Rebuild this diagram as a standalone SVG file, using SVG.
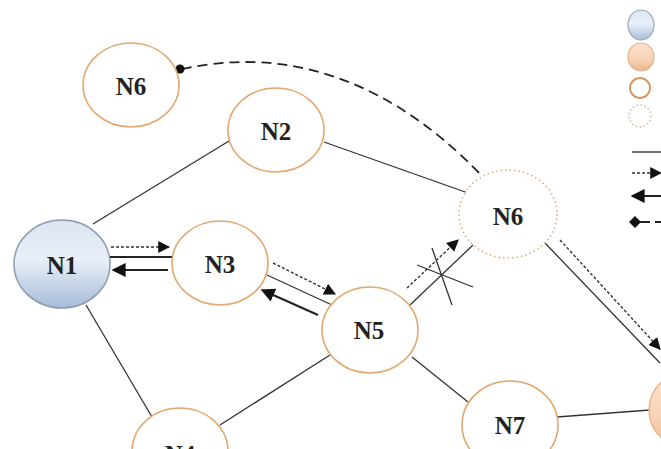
<svg xmlns="http://www.w3.org/2000/svg" width="661" height="449" viewBox="0 0 661 449">
<style>
.node{fill:#fff;stroke:#e2a86e;stroke-width:1.6}
.dotted{fill:#fff;stroke:#dcae80;stroke-width:1.6;stroke-dasharray:1.5 3}
.lbl{font-family:"Liberation Serif",serif;font-weight:bold;font-size:25px;fill:#222;text-anchor:middle;dominant-baseline:central}
.ln{stroke:#333;stroke-width:1.3;fill:none}
.dot{stroke:#333;stroke-width:1.4;stroke-dasharray:3 2;fill:none}
.dash{stroke:#222;stroke-width:1.8;stroke-dasharray:10 6;fill:none}
.arw{stroke:#222;stroke-width:2;fill:none}
</style>
<defs>
<linearGradient id="blue" x1="0" y1="0" x2="0" y2="1">
<stop offset="0" stop-color="#dbe5f2"/>
<stop offset="0.45" stop-color="#e9eff8"/>
<stop offset="1" stop-color="#a6bcd9"/>
</linearGradient>
<linearGradient id="peach" x1="0" y1="0" x2="0" y2="1">
<stop offset="0" stop-color="#fce3d0"/>
<stop offset="0.6" stop-color="#f9d2b5"/>
<stop offset="1" stop-color="#e9b48e"/>
</linearGradient>
<marker id="ah" viewBox="0 0 10 10" refX="9" refY="5" markerWidth="12" markerHeight="12" markerUnits="userSpaceOnUse" orient="auto">
<path d="M0,0 L10,5 L0,10 z" fill="#111"/>
</marker>
<marker id="ahs" viewBox="0 0 10 10" refX="9" refY="5" markerWidth="14" markerHeight="14" markerUnits="userSpaceOnUse" orient="auto">
<path d="M0,0 L10,5 L0,10 z" fill="#111"/>
</marker>
</defs>

<g id="connectors">
<line class="ln" x1="93" y1="224" x2="229" y2="141"/>
<line class="ln" x1="324" y1="142" x2="468" y2="193"/>
<path class="dash" d="M182,69 C260,52 370,58 484,178"/>
<circle cx="180" cy="69" r="4.5" fill="#111"/>
<line class="dot" x1="111" y1="247" x2="169" y2="247" marker-end="url(#ah)"/>
<line class="arw" x1="107" y1="257" x2="173" y2="257"/>
<line class="arw" x1="168" y1="270" x2="113" y2="270" marker-end="url(#ahs)"/>
<line class="dot" x1="273" y1="263" x2="335" y2="294" marker-end="url(#ah)"/>
<line class="ln" x1="267" y1="275" x2="332" y2="305"/>
<line class="arw" x1="318" y1="315" x2="262" y2="290" marker-end="url(#ahs)"/>
<line class="ln" x1="410" y1="305" x2="473" y2="245"/>
<line class="dot" x1="407" y1="288" x2="458" y2="240" marker-end="url(#ah)"/>
<line class="ln" x1="432" y1="248" x2="452" y2="305"/>
<line class="ln" x1="417" y1="265" x2="473" y2="287"/>
<line class="dot" x1="560" y1="240" x2="660" y2="349" marker-end="url(#ah)"/>
<line class="ln" x1="545" y1="243" x2="660" y2="363"/>
<line class="ln" x1="412" y1="357" x2="468" y2="402"/>
<line class="ln" stroke-width="1.6" x1="557" y1="417" x2="650" y2="410"/>
<line class="ln" x1="330" y1="355" x2="220" y2="425"/>
<line class="ln" x1="86" y1="305" x2="152" y2="417"/>
</g>

<g id="N6a"><ellipse class="node" cx="131" cy="85" rx="48" ry="42"/><text class="lbl" x="131" y="86">N6</text></g>
<g id="N2"><ellipse class="node" cx="276" cy="130" rx="48" ry="42"/><text class="lbl" x="276" y="131">N2</text></g>
<g id="N1"><ellipse cx="62" cy="264" rx="48" ry="44" fill="url(#blue)" stroke="#8e9cae" stroke-width="1.5"/><text class="lbl" x="62" y="265">N1</text></g>
<g id="N3"><ellipse class="node" cx="220" cy="263" rx="48" ry="42"/><text class="lbl" x="220" y="264">N3</text></g>
<g id="N5"><ellipse class="node" cx="370" cy="330" rx="48" ry="43"/><text class="lbl" x="369" y="330">N5</text></g>
<g id="N6b"><ellipse class="dotted" cx="508" cy="214" rx="49" ry="44"/><text class="lbl" x="508" y="216">N6</text></g>
<g id="N7"><ellipse class="node" cx="510" cy="425" rx="48" ry="44"/><text class="lbl" x="510" y="425">N7</text></g>
<g id="N4"><ellipse class="node" cx="180" cy="451" rx="48" ry="43"/><text class="lbl" x="180" y="454">N4</text></g>
<g id="N8"><ellipse cx="697" cy="410" rx="48" ry="42" fill="url(#peach)" stroke="#e7b690" stroke-width="1.5"/></g>

<g id="legend">
<ellipse cx="641" cy="25" rx="13" ry="15" fill="url(#blue)" stroke="#9aa8ba" stroke-width="1.2"/>
<ellipse cx="641" cy="57" rx="13" ry="14" fill="url(#peach)" stroke="#e3b08a" stroke-width="1.2"/>
<circle cx="640" cy="88" r="10" fill="#fff" stroke="#d69a66" stroke-width="2"/>
<circle cx="640" cy="116" r="11" fill="#fff" stroke="#c8b49a" stroke-width="1.4" stroke-dasharray="1.5 2.5"/>
<line x1="632" y1="152" x2="661" y2="152" stroke="#333" stroke-width="1.4"/>
<line class="dot" x1="632" y1="173" x2="661" y2="173" marker-end="url(#ah)"/>
<line class="arw" x1="661" y1="196" x2="632" y2="196" marker-end="url(#ahs)"/>
<line x1="635" y1="222" x2="650" y2="222" stroke="#222" stroke-width="2"/>
<path d="M629,222 L635,216 L641,222 L635,228 z" fill="#111"/>
<line x1="655" y1="222" x2="661" y2="222" stroke="#222" stroke-width="2"/>
</g>
</svg>
